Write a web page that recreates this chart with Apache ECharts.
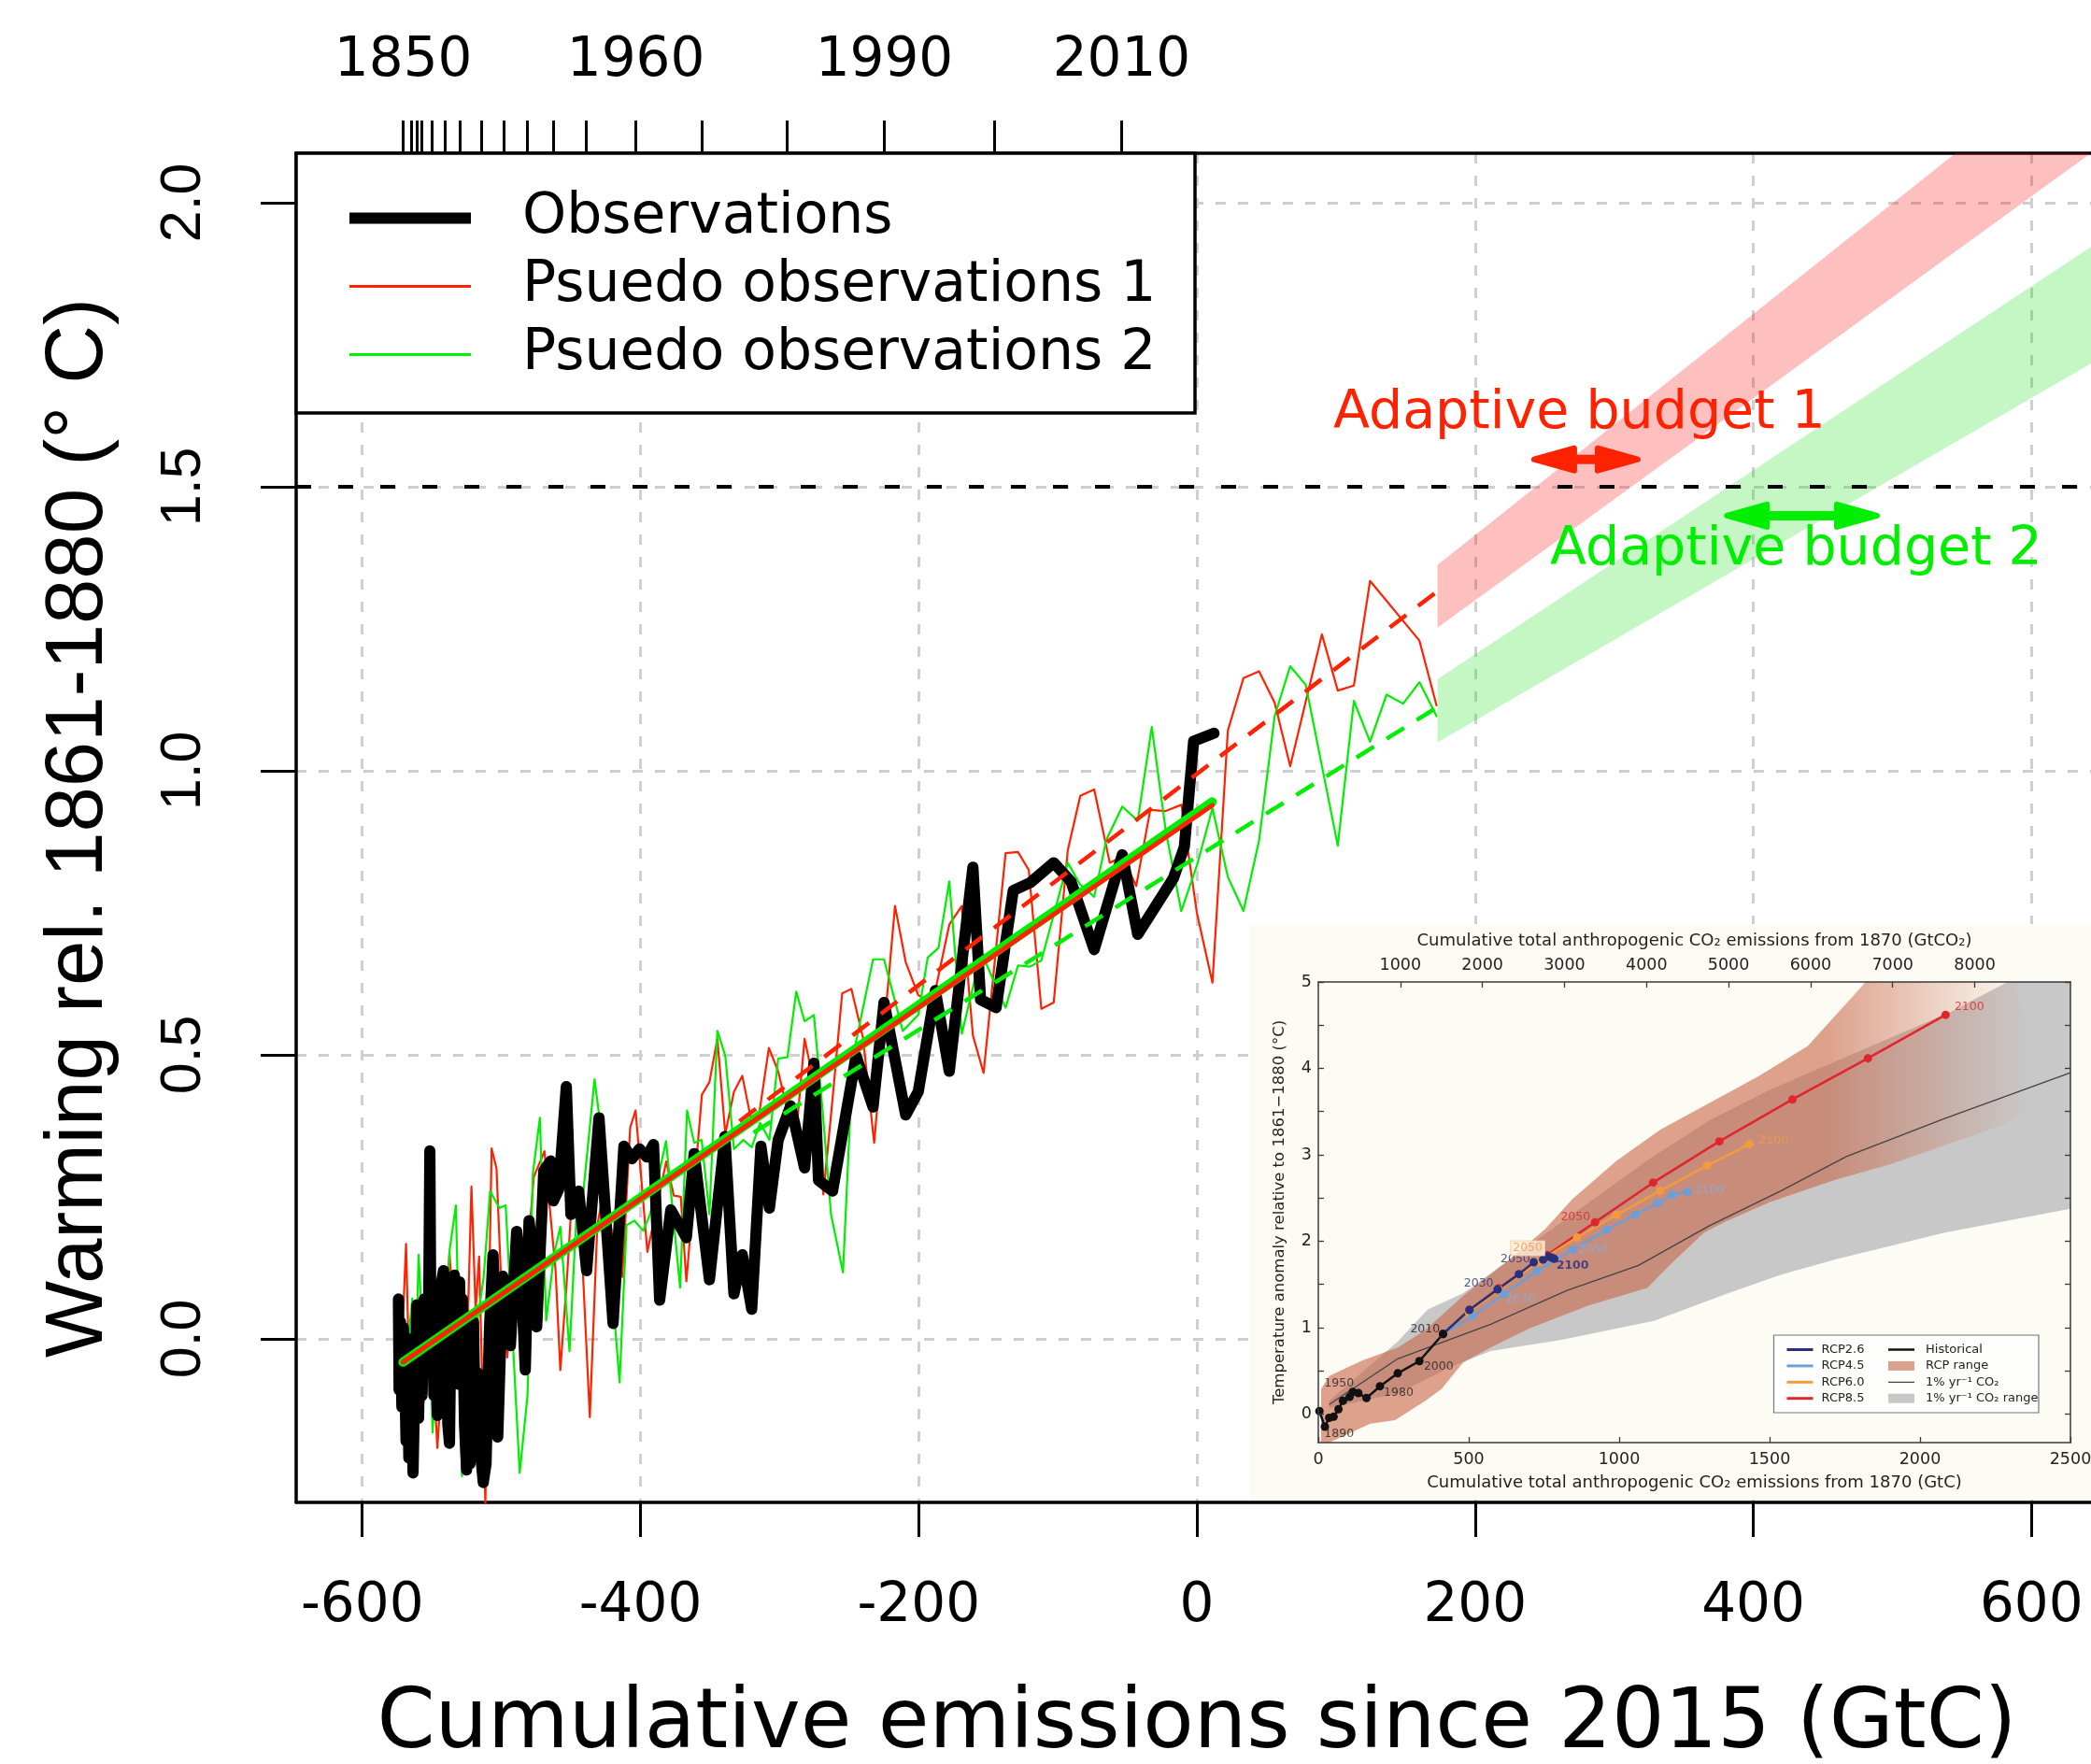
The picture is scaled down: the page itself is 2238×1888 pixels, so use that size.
<!DOCTYPE html>
<html>
<head>
<meta charset="utf-8">
<script src="https://cdn.jsdelivr.net/npm/echarts@6/dist/echarts.min.js"></script>
<style>
  html, body { margin: 0; padding: 0; background: #fff; }
  #chart { width: 2238px; height: 1888px; }
</style>
</head>
<body>
<div id="chart"></div>
<script>
// ---- main panel: warming vs cumulative emissions since 2015 (GtC) ----
const xTicks = [-600, -400, -200, 0, 200, 400, 600];
const yTicks = [0, 0.5, 1, 1.5, 2];
// top axis: calendar years at their cumulative-emission position
const yearTickGtC = [-570.5, -564.5, -560.4, -557.1, -549.7, -540.3, -529.5, -514.1, -498.0, -481.2,
  -462.4, -438.9, -403.3, -355.6, -294.5, -224.7, -145.4, -54.1];
const yearLabelGtC = [-570.5, -403.3, -224.7, -54.1];
const yearLabels = ['1850', '1960', '1990', '2010'];

const observations = [
  [-574.0, 0.07], [-573.5, -0.09], [-572.5, 0.03], [-571.5, -0.12], [-570.5, 0.02], [-569.5, -0.06],
  [-568.5, -0.18], [-567.5, -0.02], [-566.5, -0.21], [-565.0, 0.0], [-563.5, -0.236], [-562.0, -0.05],
  [-560.7, 0.06], [-559.5, -0.14], [-558.5, 0.04], [-557.0, -0.10], [-555.5, 0.07], [-554.5, -0.04],
  [-553.5, 0.06], [-552.5, -0.03], [-551.4, 0.331], [-550.5, -0.05], [-549.5, 0.09], [-548.5, -0.10],
  [-547.5, 0.05], [-546.0, -0.135], [-545.0, 0.02], [-544.0, -0.10], [-543.0, 0.10], [-541.6, 0.12],
  [-540.5, -0.03], [-539.5, 0.11], [-538.5, -0.15], [-537.3, -0.184], [-536.0, 0.08], [-535.0, -0.05],
  [-533.8, 0.112], [-532.5, 0.09], [-531.0, -0.08], [-530.0, 0.10], [-529.0, -0.05], [-528.0, 0.07],
  [-526.5, -0.15], [-525.0, -0.231], [-523.5, -0.10], [-522.5, -0.22], [-521.0, -0.05], [-520.0, 0.03],
  [-518.5, -0.20], [-517.0, -0.06], [-515.0, -0.20], [-513.0, -0.253], [-511.0, -0.22], [-508.5, 0.02],
  [-506.0, 0.148], [-504.5, 0.06], [-502.6, -0.173], [-499.0, 0.11], [-496.5, 0.08], [-493.5, -0.012],
  [-489.0, 0.189], [-486.0, 0.12], [-482.8, -0.055], [-480.1, 0.208], [-477.0, 0.14], [-474.6, 0.021],
  [-469.5, 0.296], [-464.5, 0.313], [-462.6, 0.243], [-458.8, 0.263], [-453.3, 0.444], [-450.0, 0.219],
  [-444.4, 0.26], [-438.7, 0.12], [-429.8, 0.389], [-419.7, 0.027], [-411.9, 0.339], [-406.2, 0.317],
  [-400.7, 0.334], [-395.5, 0.32], [-390.6, 0.342], [-386.2, 0.068], [-378.2, 0.227], [-367.0, 0.178],
  [-361.4, 0.326], [-350.4, 0.104], [-339.3, 0.356], [-332.8, 0.079], [-326.8, 0.148], [-320.0, 0.052],
  [-313.4, 0.339], [-307.3, 0.23], [-301.0, 0.35], [-292.0, 0.41], [-282.0, 0.301], [-275.3, 0.485],
  [-272.0, 0.279], [-261.9, 0.26], [-256.3, 0.339], [-245.0, 0.498], [-232.8, 0.408], [-224.9, 0.592],
  [-209.3, 0.394], [-200.3, 0.435], [-188.0, 0.613], [-178.0, 0.471], [-161.0, 0.83], [-155.5, 0.597],
  [-144.3, 0.583], [-132.0, 0.789], [-119.7, 0.803], [-102.9, 0.838], [-90.5, 0.805], [-73.8, 0.685],
  [-53.6, 0.852], [-42.5, 0.712], [-16.8, 0.811], [-9.0, 0.866], [-2.3, 1.052], [12.3, 1.066]
];

const pseudoObs1 = [
  [-574, -0.05], [-571, 0.02], [-568.5, 0.167], [-566, -0.09], [-562, 0.0], [-559, -0.05], [-556, -0.113],
  [-552, 0.02], [-548, -0.1], [-546, -0.192], [-541, 0.0], [-537.3, 0.153], [-533, -0.02], [-529, 0.05],
  [-525, -0.05], [-521.5, 0.268], [-518.5, 0.05], [-516, 0.145], [-511.5, -0.29], [-507, 0.335],
  [-503.5, 0.3], [-500.3, 0.109], [-495.8, -0.033], [-491, 0.1], [-486.8, 0.05], [-482, 0.12],
  [-476.7, 0.285], [-469, 0.33], [-464, 0.2], [-461, 0.12], [-457.6, -0.055], [-453, 0.1], [-449, 0.26],
  [-443, 0.2], [-436.4, -0.138], [-431, 0.2], [-425, 0.28], [-419, 0.15], [-413, 0.109], [-407.4, 0.372],
  [-403.5, 0.402], [-395, 0.153], [-381.5, 0.312], [-376, 0.252], [-371, 0.25], [-367, 0.101],
  [-355.8, 0.43], [-350.4, 0.452], [-344.7, 0.528], [-339, 0.361], [-332.8, 0.435], [-326.8, 0.463],
  [-320, 0.38], [-314.4, 0.4], [-307.7, 0.512], [-301, 0.471], [-288.7, 0.342], [-282, 0.528],
  [-275.3, 0.45], [-268.5, 0.254], [-262, 0.42], [-255, 0.608], [-248.4, 0.616], [-240, 0.53],
  [-232, 0.345], [-217, 0.762], [-209.3, 0.663], [-200.3, 0.605], [-190, 0.59], [-178, 0.729],
  [-169, 0.762], [-161, 0.534], [-153.3, 0.468], [-137.5, 0.855], [-128.6, 0.857], [-120.8, 0.825],
  [-111.8, 0.581], [-102.9, 0.592], [-92.8, 0.86], [-83.8, 0.956], [-73.8, 0.967], [-62.6, 0.838],
  [-53.6, 0.849], [-43.6, 0.797], [-33.5, 0.931], [-22.4, 0.929], [-11.1, 0.94], [0, 0.75],
  [11.2, 0.627], [22.3, 1.071], [33.5, 1.163], [44.7, 1.175], [55.9, 1.12], [67.1, 1.008],
  [89.9, 1.24], [101.3, 1.141], [112.9, 1.15], [124.5, 1.334], [160, 1.229], [172.3, 1.115]
];

const pseudoObs2 = [
  [-574, -0.12], [-571.5, 0.0], [-570.6, -0.16], [-569.6, -0.181], [-566, 0.02], [-564, 0.071],
  [-561.5, -0.05], [-559.5, 0.148], [-556, -0.02], [-552, 0.05], [-549.4, -0.165], [-545, 0.05],
  [-541, -0.03], [-537.2, 0.156], [-532.7, 0.235], [-530.5, 0.0], [-528.3, -0.242], [-524, 0.03],
  [-519, 0.0], [-512.7, 0.109], [-508.1, 0.26], [-501.4, 0.23], [-496.9, 0.235], [-486.8, -0.236],
  [-481.2, -0.1], [-477.4, 0.29], [-472.3, 0.389], [-467.8, 0.032], [-462, 0.15], [-457.6, 0.197],
  [-451, -0.022], [-446, 0.22], [-441, 0.26], [-433, 0.457], [-429, 0.38], [-424, 0.2], [-415, -0.077],
  [-410, 0.2], [-404.3, 0.208], [-398, 0.19], [-393, 0.22], [-381.6, 0.348], [-371.5, 0.09],
  [-366.5, 0.402], [-361.4, 0.345], [-356, 0.35], [-350.4, 0.219], [-344.7, 0.542], [-339, 0.498],
  [-332.8, 0.334], [-326, 0.35], [-320, 0.337], [-314, 0.38], [-307.3, 0.35], [-301, 0.493],
  [-294.3, 0.496], [-288, 0.611], [-282, 0.559], [-275.3, 0.57], [-269, 0.4], [-263, 0.219],
  [-254.4, 0.117], [-247.3, 0.496], [-232.8, 0.668], [-224.9, 0.668], [-211.4, 0.542], [-200.3, 0.57],
  [-193.5, 0.671], [-185.8, 0.688], [-178, 0.805], [-169, 0.537], [-155, 0.68], [-137.5, 0.583],
  [-128.6, 0.657], [-120, 0.655], [-111.8, 0.666], [-92.8, 0.838], [-84, 0.80], [-73.8, 0.778],
  [-65, 0.879], [-53.6, 0.937], [-42.5, 0.912], [-32.4, 1.077], [-22.3, 0.893], [-11.2, 0.753],
  [0, 0.833], [11.2, 0.934], [22.3, 0.813], [33.5, 0.753], [44.7, 0.877], [55.9, 1.096], [67.1, 1.184],
  [78.3, 1.151], [101.3, 0.868], [112.9, 1.123], [124.5, 1.051], [136.4, 1.134], [148.3, 1.118],
  [160, 1.156], [172.3, 1.096]
];

// regression fits
const fit1 = [[-570.7, -0.041], [11, 0.939]];
const fit2 = [[-570.7, -0.041], [11, 0.945]];
const fit1Recent = [[-328.8, 0.383], [173, 1.316]];
const fit2Recent = [[-318.7, 0.363], [173, 1.112]];
// projected budget bands: [x, lower, upper]
const band1 = [[173, 1.252, 1.362], [700, 2.189, 2.388]];
const band2 = [[173, 1.050, 1.161], [700, 1.798, 2.015]];
const target = [[-647.5, 1.5], [647.5, 1.5]];
// adaptive budget arrows: [from, to, y]
const budgetArrows = [[240.4, 319, 1.548], [379, 491, 1.449]];

// ---- inset: IPCC AR5 cumulative emissions figure ----
const insetCO2Ticks = [1000, 2000, 3000, 4000, 5000, 6000, 7000, 8000];
const insetYTicks = [0, 0.5, 1, 1.5, 2, 2.5, 3, 3.5, 4, 4.5, 5];
const insetYLabels = [0, 1, 2, 3, 4, 5];

const historical = [[3.6, 0.035], [21.8, -0.146], [36, -0.044], [51, -0.031], [67, 0.057], [82, 0.154],
  [104, 0.199], [114.5, 0.256], [133, 0.243], [160, 0.185], [205, 0.322], [264, 0.472], [336, 0.613],
  [414.5, 0.927]];
const rcp26 = [[414.5, 0.927], [502, 1.205], [596, 1.443], [667, 1.62], [716, 1.756], [747, 1.787],
  [764, 1.823], [776, 1.81], [784, 1.796]];
const rcp45 = [[414.5, 0.927], [513, 1.134], [618, 1.39], [727, 1.655], [845, 1.898], [958, 2.131],
  [1054, 2.308], [1129, 2.44], [1178, 2.538], [1227, 2.573]];
const rcp60 = [[414.5, 0.927], [500, 1.18], [600, 1.44], [730, 1.76], [860, 2.043], [991, 2.304],
  [1136, 2.582], [1293, 2.877], [1433, 3.124]];
const rcp85 = [[414.5, 0.927], [503, 1.205], [600, 1.456], [760, 1.84], [920, 2.22], [1113, 2.679],
  [1333, 3.155], [1576, 3.641], [1827, 4.117], [2085, 4.62]];
const onePct = [[36, 0.11], [264, 0.64], [573, 1.04], [827, 1.43], [1064, 1.72], [1300, 2.18],
  [1536, 2.58], [1755, 2.98], [2082, 3.42], [2500, 3.95]];

const rcpRangeUpper = [[9, 0.29], [36, 0.44], [145, 0.62], [264, 0.77], [355, 0.97], [482, 1.37],
  [627, 1.765], [754, 2.14], [845, 2.49], [991, 2.93], [1136, 3.29], [1300, 3.60], [1464, 3.91],
  [1627, 4.26], [1809, 4.96], [1864, 5.2], [2300, 5.3]];
const rcpRangeLower = [[9, -0.33], [36, -0.33], [173, -0.11], [255, -0.07], [355, 0.15], [409, 0.29],
  [482, 0.60], [573, 0.77], [700, 0.99], [900, 1.26], [1093, 1.46], [1173, 1.74], [1282, 2.10],
  [1355, 2.23], [1500, 2.45], [1718, 2.71], [1900, 2.89], [2082, 3.11], [2264, 3.33], [2409, 3.6]];
const onePctUpper = [[36, 0.15], [264, 0.84], [364, 1.21], [482, 1.40], [700, 1.95], [900, 2.45],
  [1100, 2.95], [1300, 3.4], [1500, 3.75], [1700, 4.05], [1900, 4.35], [2100, 4.65], [2291, 5.0],
  [2550, 5.4]];
const onePctLower = [[36, 0.07], [264, 0.24], [445, 0.55], [573, 0.73], [809, 0.86], [1118, 1.08],
  [1355, 1.39], [1536, 1.61], [1718, 1.79], [2082, 2.10], [2550, 2.41]];

// year labels in the inset: [x, y, text]
const histYearLabels = [[69, -0.234, '1890'], [69, 0.353, '1950'], [267, 0.243, '1980'],
  [400, 0.552, '2000'], [355, 0.984, '2010']];
const rcp26YearLabels = [[533, 1.509, '2030'], [655, 1.796, '2050'], [845, 1.721, '2100']];
const rcp45YearLabels = [[673, 1.324, '2030'], [915, 1.898, '2050'], [1300, 2.595, '2100']];
const rcp60YearLabels = [[696, 1.920, '2050'], [1513, 3.169, '2100']];
const rcp85YearLabels = [[855, 2.273, '2050'], [2164, 4.709, '2100']];

const RED = '#ff2200';
const GREEN = '#00ee00';
const arrowColors = [RED, GREEN];
const C26 = '#27307f', C45 = '#6d9fd6', C60 = '#f29b3d', C85 = '#e0262c';

const MAIN_FONT = 'DejaVu Sans';
const chart = echarts.init(document.getElementById('chart'), null, { renderer: 'canvas', width: 2238, height: 1888 });

function bandSeries(name, rows, fill) {
  return {
    type: 'custom', name, xAxisIndex: 0, yAxisIndex: 0, clip: true, silent: true, z: 2,
    data: rows.map(r => [r[0], r[1]]),
    renderItem(params, api) {
      if (params.dataIndex !== 0) return null;
      const lower = rows.map(r => api.coord([r[0], r[1]]));
      const upper = rows.slice().reverse().map(r => api.coord([r[0], r[2]]));
      return { type: 'polygon', shape: { points: lower.concat(upper) }, style: { fill } };
    }
  };
}

function rangeSeries(name, lowerRows, upperRows, fill) {
  return {
    type: 'custom', name, xAxisIndex: 2, yAxisIndex: 1, clip: true, silent: true, z: 4,
    itemStyle: { color: typeof fill === 'string' ? fill : '#dca08c' },
    data: lowerRows,
    renderItem(params, api) {
      if (params.dataIndex !== 0) return null;
      const pts = lowerRows.map(p => api.coord(p)).concat(upperRows.slice().reverse().map(p => api.coord(p)));
      return { type: 'polygon', shape: { points: pts }, style: { fill } };
    }
  };
}

function mainLine(name, data, color, width, extra) {
  return Object.assign({
    type: 'line', name, data, xAxisIndex: 0, yAxisIndex: 0, symbol: 'none', z: 2, silent: true,
    lineStyle: { color, width, cap: 'round', join: 'round' }, itemStyle: { color }
  }, extra || {});
}

function insetLine(name, data, color) {
  return {
    type: 'line', name, data, xAxisIndex: 2, yAxisIndex: 1, z: 5, silent: true,
    symbol: 'circle', symbolSize: 9, showSymbol: true,
    lineStyle: { color, width: 2.5 }, itemStyle: { color, borderWidth: 0 }
  };
}

function yearLabelSeries(data, color) {
  return {
    type: 'scatter', xAxisIndex: 2, yAxisIndex: 1, z: 6, silent: true,
    symbol: 'circle', symbolSize: 1, itemStyle: { color: 'rgba(0,0,0,0)' },
    data: data.map(d => {
      const item = { value: d };
      if (color === C26 && d[2] === '2100') item.label = { fontWeight: 'bold' };
      if (color === C60 && d[2] === '2050') item.label = { backgroundColor: '#fbeedd', borderColor: '#f5cfa4', borderWidth: 1, padding: [1, 2] };
      return item;
    }),
    label: { show: true, position: 'inside', formatter: p => p.value[2], color, fontSize: 12.5, fontFamily: MAIN_FONT }
  };
}

const insetAxisLine = { show: true, onZero: false, lineStyle: { color: '#3a3a3a', width: 1.5 } };
const insetTick = { show: true, inside: true, length: 6, lineStyle: { color: '#3a3a3a', width: 1.3 } };
const insetLabel = { color: '#222', fontSize: 17.5, fontFamily: MAIN_FONT };
const insetName = { color: '#222', fontSize: 18, fontFamily: MAIN_FONT };

const gridSplit = { show: true, lineStyle: { color: '#cfcfcf', width: 3, type: [11, 13] } };
// legend icons: invisible corner points fix the icon box so the bar keeps its own thickness
const obsIcon = 'path://M0,0L1,0L1,0Z M0,1L130,1L130,13L0,13Z M0,14L1,14L1,14Z';
const pseudoIcon = 'path://M0,0L1,0L1,0Z M0,5.6L130,5.6L130,8.4L0,8.4Z M0,14L1,14L1,14Z';
const thinBar = 'path://M0,0L1,0L1,0Z M0,3.8L28,3.8L28,6.2L0,6.2Z M0,10L1,10L1,10Z';
const hairBar = 'path://M0,0L1,0L1,0Z M0,4.4L28,4.4L28,5.6L0,5.6Z M0,10L1,10L1,10Z';

const option = {
  animation: false,
  backgroundColor: '#fff',
  textStyle: { fontFamily: MAIN_FONT },
  grid: [
    { left: 317, top: 164, right: -7, bottom: 280, outerBoundsMode: 'none', containLabel: false },
    { left: 1411, top: 1051, width: 805, height: 493, outerBoundsMode: 'none', containLabel: false }
  ],
  xAxis: [
    {
      type: 'value', gridIndex: 0, position: 'bottom', min: -647.5, max: 647.5, splitNumber: 6, z: 0,
      name: 'Cumulative emissions since 2015 (GtC)', nameLocation: 'middle', nameGap: 194,
      nameTextStyle: { fontFamily: MAIN_FONT, fontSize: 89, color: '#000' },
      axisLine: { show: true, onZero: false, lineStyle: { color: '#000', width: 3.5 } },
      axisTick: { show: true, length: 37, customValues: xTicks, lineStyle: { color: '#000', width: 3 } },
      axisLabel: { customValues: xTicks, margin: 83, fontSize: 58, fontFamily: MAIN_FONT, color: '#000', formatter: v => String(v) },
      splitLine: gridSplit
    },
    {
      type: 'value', gridIndex: 0, position: 'top', min: -647.5, max: 647.5, z: 0,
      axisLine: { show: true, onZero: false, lineStyle: { color: '#000', width: 3.5 } },
      axisTick: { show: true, length: 35, customValues: yearTickGtC, lineStyle: { color: '#000', width: 3 } },
      axisLabel: {
        customValues: yearLabelGtC, margin: 69, fontSize: 58, fontFamily: MAIN_FONT, color: '#000',
        formatter: v => {
          let best = 0;
          yearLabelGtC.forEach((g, i) => { if (Math.abs(g - v) < Math.abs(yearLabelGtC[best] - v)) best = i; });
          return yearLabels[best];
        }
      },
      splitLine: { show: false }
    },
    {
      type: 'value', gridIndex: 1, position: 'bottom', min: 0, max: 2500, interval: 500, z: 6,
      name: 'Cumulative total anthropogenic CO\u2082 emissions from 1870 (GtC)', nameLocation: 'middle', nameGap: 34,
      nameTextStyle: insetName,
      axisLine: insetAxisLine, axisTick: insetTick,
      axisLabel: Object.assign({ margin: 9, formatter: v => String(v) }, insetLabel),
      splitLine: { show: false }
    },
    {
      type: 'value', gridIndex: 1, position: 'top', min: 0, max: 2500 * 44 / 12, z: 6,
      name: 'Cumulative total anthropogenic CO\u2082 emissions from 1870 (GtCO\u2082)', nameLocation: 'middle', nameGap: 35,
      nameTextStyle: insetName,
      axisLine: insetAxisLine,
      axisTick: Object.assign({ customValues: insetCO2Ticks }, insetTick),
      axisLabel: Object.assign({ customValues: insetCO2Ticks, margin: 9, formatter: v => String(Math.round(v)) }, insetLabel),
      splitLine: { show: false }
    }
  ],
  yAxis: [
    {
      type: 'value', gridIndex: 0, min: -0.288, max: 2.087, splitNumber: 5, z: 0,
      name: 'Warming rel. 1861-1880 (\u00b0 C)', nameLocation: 'middle', nameRotate: 90, nameGap: 188,
      nameTextStyle: { fontFamily: 'Liberation Sans', fontSize: 87, color: '#000' },
      axisLine: { show: true, onZero: false, lineStyle: { color: '#000', width: 3.5 } },
      axisTick: { show: true, length: 38, customValues: yTicks, lineStyle: { color: '#000', width: 3 } },
      axisLabel: { customValues: yTicks, rotate: 90, margin: 89, fontSize: 61, fontFamily: 'Liberation Sans', color: '#000', formatter: v => v.toFixed(1) },
      splitLine: gridSplit
    },
    {
      type: 'value', gridIndex: 1, position: 'left', min: -0.33, max: 5, z: 6,
      name: 'Temperature anomaly relative to 1861\u22121880 (\u00b0C)', nameLocation: 'middle', nameRotate: 90, nameGap: 33,
      nameTextStyle: { color: '#222', fontSize: 16.5, fontFamily: MAIN_FONT },
      axisLine: insetAxisLine,
      axisTick: Object.assign({ customValues: insetYTicks }, insetTick),
      axisLabel: Object.assign({ customValues: insetYLabels, margin: 7, formatter: v => String(v) }, insetLabel),
      splitLine: { show: false }
    },
    {
      type: 'value', gridIndex: 1, position: 'right', min: -0.33, max: 5, z: 6,
      axisLine: insetAxisLine,
      axisTick: Object.assign({ customValues: insetYTicks }, insetTick),
      axisLabel: { show: false },
      splitLine: { show: false }
    }
  ],
  legend: [
    {
      data: [
        { name: 'Observations', icon: obsIcon, itemStyle: { color: '#000', borderWidth: 0 } },
        { name: 'Psuedo observations 1', icon: pseudoIcon, itemStyle: { color: RED, borderWidth: 0 } },
        { name: 'Psuedo observations 2', icon: pseudoIcon, itemStyle: { color: GREEN, borderWidth: 0 } }
      ],
      orient: 'vertical', left: 374, top: 203.5, padding: 0, z: 4,
      itemWidth: 130, itemHeight: 14, itemGap: 13, selectedMode: false,
      textStyle: { fontFamily: MAIN_FONT, fontSize: 60, lineHeight: 57, color: '#000', padding: [0, 0, 0, 50] }
    },
    {
      data: [
        { name: 'RCP2.6', icon: 'rect' }, { name: 'RCP4.5', icon: 'rect' },
        { name: 'RCP6.0', icon: 'rect' }, { name: 'RCP8.5', icon: 'rect' }
      ],
      orient: 'vertical', left: 1912.5, top: 1438, padding: 0, z: 9,
      itemWidth: 28, itemHeight: 3, itemGap: 4.4, selectedMode: false,
      itemStyle: { borderWidth: 0 },
      textStyle: { fontFamily: MAIN_FONT, fontSize: 13, lineHeight: 13, color: '#222', padding: [0, 0, 0, 4] }
    },
    {
      data: [
        { name: 'Historical', icon: thinBar, itemStyle: { color: '#111', borderWidth: 0 } },
        { name: 'RCP range', icon: 'rect', itemStyle: { color: '#dca08c', borderWidth: 0 } },
        { name: '1% yr\u207b\u00b9 CO\u2082', icon: hairBar, itemStyle: { color: '#444', borderWidth: 0 } },
        { name: '1% yr\u207b\u00b9 CO\u2082 range', icon: 'rect', itemStyle: { color: '#c8c8c8', borderWidth: 0 } }
      ],
      orient: 'vertical', left: 2021, top: 1438, padding: 0, z: 9,
      itemWidth: 28, itemHeight: 10, itemGap: 4.4, selectedMode: false,
      textStyle: { fontFamily: MAIN_FONT, fontSize: 13, lineHeight: 13, color: '#222', padding: [0, 0, 0, 7] }
    }
  ],
  graphic: {
    elements: [
      { type: 'rect', z: 1, silent: true, shape: { x: 1338, y: 989, width: 910, height: 616 }, style: { fill: '#fcfcf5' } },
      { type: 'rect', z: 3, silent: true, shape: { x: 317, y: 164, width: 962, height: 278 }, style: { fill: '#fff', stroke: '#000', lineWidth: 3.5 } },
      { type: 'rect', z: 8, silent: true, shape: { x: 1898.5, y: 1429, width: 283.5, height: 83 }, style: { fill: '#fefefc', stroke: '#777', lineWidth: 1.2 } },
      { type: 'text', z: 5, silent: true, x: 1427, y: 443, style: { text: 'Adaptive budget 1', font: '57px "DejaVu Sans"', fill: RED, verticalAlign: 'middle' } },
      { type: 'text', z: 5, silent: true, x: 1659, y: 589, style: { text: 'Adaptive budget 2', font: '57px "DejaVu Sans"', fill: GREEN, verticalAlign: 'middle' } }
    ]
  },
  series: [
    bandSeries('band 1', band1, 'rgba(250,20,20,0.27)'),
    bandSeries('band 2', band2, 'rgba(20,225,20,0.25)'),
    mainLine('1.5 target', target, '#000', 4, { lineStyle: { color: '#000', width: 4, type: [16, 29] } }),
    mainLine('Psuedo observations 1', pseudoObs1, RED, 2.2),
    mainLine('Psuedo observations 2', pseudoObs2, GREEN, 2.2),
    mainLine('Observations', observations, '#000', 12),
    mainLine('fit 1 recent', fit1Recent, RED, 4.5, { lineStyle: { color: RED, width: 4.5, type: [22, 16] } }),
    mainLine('fit 2 recent', fit2Recent, GREEN, 4.5, { lineStyle: { color: GREEN, width: 4.5, type: [22, 16] } }),
    mainLine('fit 2', fit2, GREEN, 10),
    mainLine('fit 1', fit1, RED, 5),
    {
      type: 'custom', name: 'budget arrows', xAxisIndex: 0, yAxisIndex: 0, z: 3, silent: true,
      data: budgetArrows, encode: { x: [0, 1], y: 2 },
      renderItem(params, api) {
        const a = api.coord([api.value(0), api.value(2)]);
        const b = api.coord([api.value(1), api.value(2)]);
        const color = arrowColors[params.dataIndex];
        const head = 46, half = 12;
        const ax = a[0] + 3, bx = b[0] - 3, y = a[1];
        return {
          type: 'group',
          children: [
            { type: 'line', shape: { x1: ax + head - 6, y1: y, x2: bx - head + 6, y2: y }, style: { stroke: color, lineWidth: 10 } },
            { type: 'polygon', shape: { points: [[ax, y], [ax + head - 3, y - half], [ax + head - 3, y + half]] }, style: { fill: color, stroke: color, lineWidth: 6, lineJoin: 'round' } },
            { type: 'polygon', shape: { points: [[bx, y], [bx - head + 3, y - half], [bx - head + 3, y + half]] }, style: { fill: color, stroke: color, lineWidth: 6, lineJoin: 'round' } }
          ]
        };
      }
    },
    // inset
    rangeSeries('1% yr\u207b\u00b9 CO\u2082 range', onePctLower, onePctUpper, '#c8c8c8'),
    rangeSeries('RCP range', rcpRangeLower, rcpRangeUpper, new echarts.graphic.LinearGradient(0, 0, 1, 0, [
      { offset: 0, color: 'rgba(200,100,70,0.6)' },
      { offset: 0.70, color: 'rgba(200,100,70,0.6)' },
      { offset: 0.98, color: 'rgba(200,100,70,0)' }
    ])),
    {
      type: 'line', name: '1% yr\u207b\u00b9 CO\u2082', data: onePct, xAxisIndex: 2, yAxisIndex: 1, z: 5, silent: true,
      symbol: 'none', lineStyle: { color: '#444', width: 1.3 }, itemStyle: { color: '#444' }
    },
    insetLine('RCP8.5', rcp85, C85),
    insetLine('RCP6.0', rcp60, C60),
    insetLine('RCP4.5', rcp45, C45),
    insetLine('RCP2.6', rcp26, C26),
    insetLine('Historical', historical, '#111'),
    yearLabelSeries(histYearLabels, '#222'),
    yearLabelSeries(rcp26YearLabels, C26),
    yearLabelSeries(rcp45YearLabels, '#86b0de'),
    yearLabelSeries(rcp60YearLabels, C60),
    yearLabelSeries(rcp85YearLabels, C85)
  ]
};

chart.setOption(option);
</script>
</body>
</html>
